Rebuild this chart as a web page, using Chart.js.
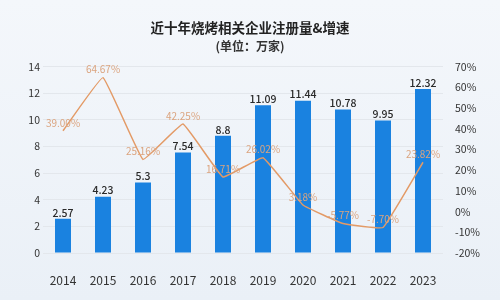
<!DOCTYPE html>
<html><head><meta charset="utf-8">
<script src="https://cdn.jsdelivr.net/npm/chart.js@4/dist/chart.umd.min.js"></script>
<style>
html,body{margin:0;padding:0;background:linear-gradient(180deg,#f4f7fb,#eaf0f7);}
#wrap{width:500px;height:300px;}
</style></head><body>
<div id="wrap"><canvas id="c" width="500" height="300"></canvas></div>
<script>
const categories = ["2014","2015","2016","2017","2018","2019","2020","2021","2022","2023"];
const registrations = [2.57,4.23,5.3,7.54,8.8,11.09,11.44,10.78,9.95,12.32];
const growth = [39.00,64.67,25.16,42.25,16.71,26.02,3.18,-5.77,-7.70,23.82];
const growthLabels = ["39.00%","64.67%","25.16%","42.25%","16.71%","26.02%","3.18%","-5.77%","-7.70%","23.82%"];
const leftTicks = [0,2,4,6,8,10,12,14];
const rightTicks = [-20,-10,0,10,20,30,40,50,60,70];

const FONT = '"Noto Sans CJK SC","Noto Sans",sans-serif';

const labelPlugin = {
  id:'labels',
  afterDatasetsDraw(chart){
    const ctx = chart.ctx;
    ctx.save();
    ctx.textAlign='center';
    const bar = chart.getDatasetMeta(0);
    ctx.font = '500 10.5px ' + FONT;
    ctx.fillStyle = '#2a2a2a';
    ctx.textBaseline='bottom';
    bar.data.forEach((el,i)=>{ ctx.fillText(String(registrations[i]), el.x, el.y-1); });
    const line = chart.getDatasetMeta(1);
    ctx.font = '10px ' + FONT;
    ctx.fillStyle = '#dba47f';
    ctx.textBaseline='middle';
    line.data.forEach((el,i)=>{ ctx.fillText(growthLabels[i], el.x, el.y-8); });
    ctx.restore();
  }
};

new Chart(document.getElementById('c'),{
  data:{
    labels:categories,
    datasets:[
      {type:'bar',data:registrations,yAxisID:'y',backgroundColor:'#1a82e0',barPercentage:0.5,categoryPercentage:0.8,order:2},
      {type:'line',data:growth,yAxisID:'y1',borderColor:'#e39a66',borderWidth:1.5,pointRadius:0,tension:0.08,order:1}
    ]
  },
  options:{
    responsive:false,animation:false,
    layout:{padding:{left:0,right:0,top:0,bottom:0}},
    plugins:{
      legend:{display:false},tooltip:{enabled:false},
      title:{display:true,text:'近十年烧烤相关企业注册量&增速',color:'#222',font:{family:FONT,size:13.5,weight:'bold'},padding:{top:20,bottom:3}},
      subtitle:{display:true,text:'(单位：万家)',color:'#333',font:{family:FONT,size:12,weight:'bold'},padding:{top:0,bottom:13}}
    },
    scales:{
      x:{grid:{display:false},border:{display:false},ticks:{color:'#333',font:{family:FONT,size:12},padding:12},
         afterFit(s){s.height=47;}},
      y:{position:'left',min:0,max:14,afterBuildTicks(s){s.ticks=leftTicks.map(v=>({value:v}));},
         grid:{color:'#e3e7ec',drawTicks:false},border:{display:false},
         ticks:{color:'#333',font:{family:FONT,size:10.5},padding:3},
         afterFit(s){s.width=43;}},
      y1:{position:'right',min:-20,max:70,afterBuildTicks(s){s.ticks=rightTicks.map(v=>({value:v}));},
         grid:{display:false},border:{display:false},
         ticks:{color:'#333',font:{family:FONT,size:10.5},padding:4,callback:v=>v+'%'},
         afterFit(s){s.width=57;}}
    }
  },
  plugins:[labelPlugin]
});
</script></body></html>
